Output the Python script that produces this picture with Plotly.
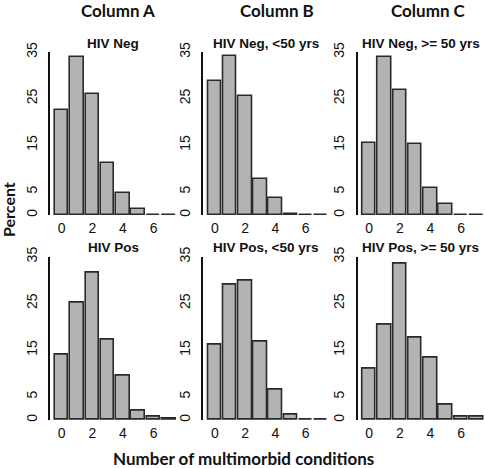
import plotly.graph_objects as go

counts = [0, 1, 2, 3, 4, 5, 6, 7]
hiv_neg_all = [22.5, 34.0, 26.0, 11.2, 4.8, 1.2, 0.1, 0.1]
hiv_neg_lt50 = [28.8, 34.1, 25.5, 7.7, 3.6, 0.3, 0.1, 0.1]
hiv_neg_ge50 = [15.5, 34.0, 26.8, 15.2, 5.9, 2.3, 0.1, 0.1]
hiv_pos_all = [13.9, 25.2, 31.6, 17.2, 9.5, 1.9, 0.8, 0.2]
hiv_pos_lt50 = [16.2, 29.0, 29.9, 16.7, 6.4, 1.1, 0.1, 0.1]
hiv_pos_ge50 = [10.9, 20.4, 33.6, 17.7, 13.4, 3.2, 0.7, 0.7]

panel_titles = ["HIV Neg", "HIV Neg, <50 yrs", "HIV Neg, >= 50 yrs",
                "HIV Pos", "HIV Pos, <50 yrs", "HIV Pos, >= 50 yrs"]
column_titles = ["Column A", "Column B", "Column C"]
y_ticks = [0, 5, 15, 25, 35]
x_ticks = [0, 2, 4, 6]

series = [hiv_neg_all, hiv_neg_lt50, hiv_neg_ge50,
          hiv_pos_all, hiv_pos_lt50, hiv_pos_ge50]

W, H = 485, 468
col_px = [(50, 176.5), (203.3, 328.5), (357.5, 484)]
row_px = [(52, 215), (256.7, 420)]  # (top of 35, y=0) pixel positions

fig = go.Figure()
annotations = []
for i, vals in enumerate(series):
    r, c = divmod(i, 3)
    n = i + 1
    xa = "x" if n == 1 else f"x{n}"
    ya = "y" if n == 1 else f"y{n}"
    fig.add_trace(go.Bar(
        x=counts, y=vals, xaxis=xa, yaxis=ya, width=0.88,
        marker=dict(color="#b3b3b3", line=dict(color="#2a2a2a", width=1.6)),
        showlegend=False, hoverinfo="x+y"))
    x0, x1 = col_px[c]
    ytop, ybot = row_px[r]
    xdom = [x0 / W, x1 / W]
    ydom = [1 - ybot / H, 1 - ytop / H]
    kx = "xaxis" if n == 1 else f"xaxis{n}"
    ky = "yaxis" if n == 1 else f"yaxis{n}"
    fig.layout[kx] = dict(domain=xdom, anchor=ya, range=[-0.76, 7.5],
                          tickvals=x_ticks, showline=False, showgrid=False,
                          zeroline=False, ticks="", automargin=False,
                          ticklabelstandoff=3,
                          tickfont=dict(family="Liberation Sans, Arial", size=14, color="#111"))
    fig.layout[ky] = dict(domain=ydom, anchor=xa, range=[0, 35],
                          tickvals=y_ticks, tickangle=-90, showline=True,
                          linecolor="#111", linewidth=1.6, showgrid=False,
                          zeroline=False, ticks="", ticklabelstandoff=6,
                          automargin=False,
                          tickfont=dict(family="Liberation Sans, Arial", size=14, color="#111"))
    annotations.append(dict(
        text=f"<b>{panel_titles[i]}</b>", xref="paper", yref="paper",
        x=(x0 + x1) / 2 / W, y=1 - (ytop - 9) / H, xanchor="center", yanchor="middle",
        showarrow=False, font=dict(family="Liberation Sans, Arial", size=13.5, color="#111")))

col_centers = [118.3, 276.7, 428.3]
for t, cx in zip(column_titles, col_centers):
    annotations.append(dict(
        text=f"<b>{t}</b>", xref="paper", yref="paper", x=cx / W, y=1 - 10 / H,
        xanchor="center", yanchor="middle", showarrow=False,
        font=dict(family="Lato", size=17, color="#111")))

annotations.append(dict(
    text="<b>Percent</b>", xref="paper", yref="paper", x=9 / W, y=1 - 210 / H,
    xanchor="center", yanchor="middle", textangle=-90, showarrow=False,
    font=dict(family="Lato", size=16, color="#111")))
annotations.append(dict(
    text="<b>Number of multimorbid conditions</b>", xref="paper", yref="paper",
    x=243 / W, y=1 - 458 / H, xanchor="center", yanchor="middle", showarrow=False,
    font=dict(family="Lato", size=17, color="#111")))

fig.update_layout(width=W, height=H, margin=dict(l=0, r=0, t=0, b=0),
                  paper_bgcolor="white", plot_bgcolor="white",
                  annotations=annotations, bargap=0)
fig.write_html("out.html", config={"displayModeBar": False},
               post_script="document.body.style.margin='0';document.body.style.padding='0';")
